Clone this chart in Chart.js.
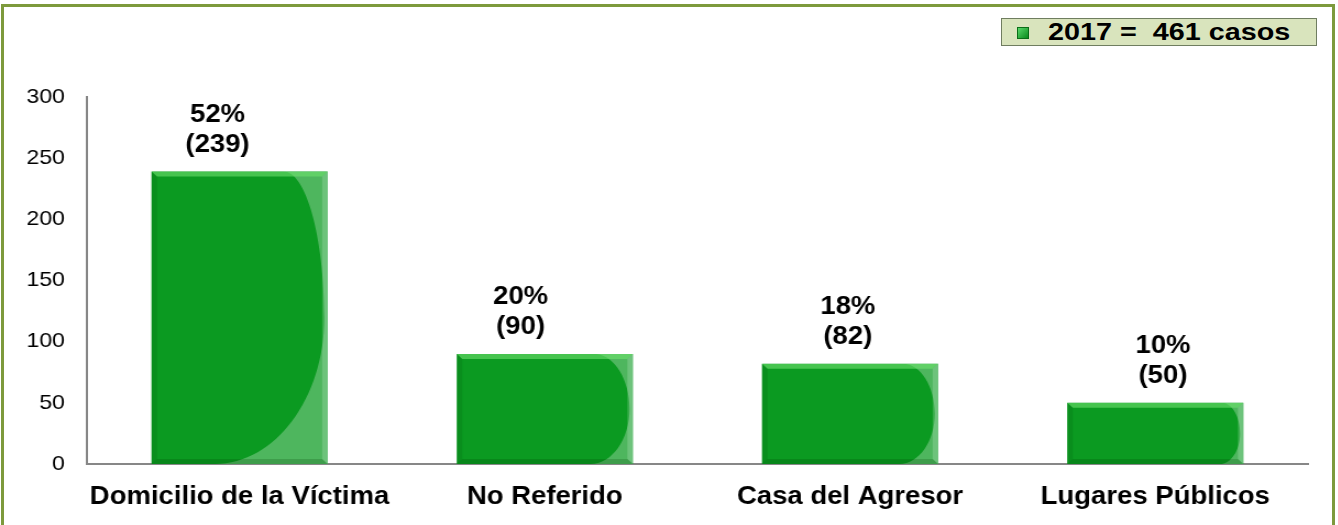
<!DOCTYPE html>
<html>
<head>
<meta charset="utf-8">
<script src="https://cdn.jsdelivr.net/npm/chart.js@4/dist/chart.umd.min.js"></script>
<style>
  html, body { margin: 0; padding: 0; background: #fff; }
  #wrap { position: relative; width: 1338px; height: 525px; overflow: hidden; }
  #frame {
    position: absolute; left: 1px; top: 4px; width: 1328px; height: 540px;
    border: 3px solid #7d9a3c;
  }
  #legend {
    position: absolute; left: 1001px; top: 18px; width: 314px; height: 26px;
    background: #d9e4bd; border: 1px solid #6f7d60;
    font: bold 23px "Liberation Sans", Arial, sans-serif; color: #000;
    line-height: 26px; white-space: pre;
  }
  #legend .mark {
    position: absolute; left: 15px; top: 8px; width: 10px; height: 10px;
    background: linear-gradient(135deg, #5ad86a, #0a8a1c);
    border: 1px solid #0b6f18;
  }
  #legend .txt {
    position: absolute; left: 46px; top: 0;
    transform: scaleX(1.25); transform-origin: 0 0;
  }
  /* the reference art is stretched horizontally, so the chart is too */
  #stretch {
    position: absolute; left: 0; top: 0;
    transform: scaleX(1.1); transform-origin: 0 0;
  }
</style>
</head>
<body>
<div id="wrap">
  <div id="frame"></div>
  <div id="stretch"><canvas id="chart" width="1216" height="525"></canvas></div>
  <div id="legend"><span class="mark"></span><span class="txt"></span></div>
</div>
<script>
const categories = ['Domicilio de la Víctima', 'No Referido', 'Casa del Agresor', 'Lugares Públicos'];
const cases = [239, 90, 82, 50];
const percents = [52, 20, 18, 10];
const yearLabel = '2017';
const totalCases = 461;
const yTicks = [0, 50, 100, 150, 200, 250, 300];

const BAR_GREEN = '#0b9a21';
const AXIS_GRAY = '#878787';
const FONT = '"Liberation Sans", Arial, sans-serif';

document.querySelector('#legend .txt').textContent = yearLabel + ' =  ' + totalCases + ' casos';

// bevel + glossy "D" overlay on each bar
const barEffects = {
  id: 'barEffects',
  afterDatasetsDraw(chart) {
    const ctx = chart.ctx;
    chart.getDatasetMeta(0).data.forEach((bar) => {
      const w = bar.width;
      const left = bar.x - w / 2;
      const right = bar.x + w / 2;
      const top = bar.y;
      const bottom = bar.base;
      const h = bottom - top;
      const midY = top + h * 0.5;
      const topOff = Math.min(0.25 * w, 0.32 * h);
      const botOff = Math.min(0.7 * w, 0.35 * h);
      const xr = right - 3;
      const x0 = right - topOff;
      const x1 = right - botOff;
      const k = 0.55;
      const b = 5;

      ctx.save();
      ctx.beginPath();
      ctx.rect(left, top, w, h);
      ctx.clip();

      // lighter corners right of the curve
      ctx.beginPath();
      ctx.moveTo(x0, top);
      ctx.bezierCurveTo(x0 + k * (xr - x0), top, xr, midY - k * (midY - top), xr, midY);
      ctx.bezierCurveTo(xr, midY + k * (bottom - midY), x1 + k * (xr - x1), bottom, x1, bottom);
      ctx.lineTo(right, bottom);
      ctx.lineTo(right, top);
      ctx.closePath();
      ctx.fillStyle = 'rgba(255,255,255,0.28)';
      ctx.fill();

      // top bevel
      ctx.beginPath();
      ctx.moveTo(left, top); ctx.lineTo(right, top);
      ctx.lineTo(right - b, top + b); ctx.lineTo(left + b, top + b);
      ctx.closePath();
      ctx.fillStyle = 'rgba(110,225,110,0.6)';
      ctx.fill();

      // right bevel
      ctx.beginPath();
      ctx.moveTo(right, top); ctx.lineTo(right, bottom);
      ctx.lineTo(right - b, bottom - b); ctx.lineTo(right - b, top + b);
      ctx.closePath();
      ctx.fillStyle = 'rgba(255,255,255,0.18)';
      ctx.fill();

      // left bevel
      ctx.beginPath();
      ctx.moveTo(left, top); ctx.lineTo(left + b, top + b);
      ctx.lineTo(left + b, bottom - b); ctx.lineTo(left, bottom);
      ctx.closePath();
      ctx.fillStyle = 'rgba(0,60,0,0.12)';
      ctx.fill();

      // bottom bevel
      ctx.beginPath();
      ctx.moveTo(left, bottom); ctx.lineTo(left + b, bottom - b);
      ctx.lineTo(right - b, bottom - b); ctx.lineTo(right, bottom);
      ctx.closePath();
      ctx.fillStyle = 'rgba(0,60,0,0.2)';
      ctx.fill();
      ctx.restore();
    });
  }
};

const valueLabels = {
  id: 'valueLabels',
  afterDatasetsDraw(chart, args, opts) {
    const ctx = chart.ctx;
    ctx.save();
    ctx.font = 'bold 25px ' + FONT;
    ctx.fillStyle = '#000';
    ctx.textAlign = 'center';
    ctx.textBaseline = 'alphabetic';
    chart.getDatasetMeta(0).data.forEach((bar, i) => {
      const x = bar.x + opts.shift[i];
      ctx.fillText('(' + cases[i] + ')', x, bar.y - 20);
      ctx.fillText(percents[i] + '%', x, bar.y - 50);
    });
    ctx.restore();
  }
};

new Chart(document.getElementById('chart'), {
  type: 'bar',
  plugins: [barEffects, valueLabels],
  data: {
    labels: categories,
    datasets: [{
      data: cases,
      backgroundColor: BAR_GREEN,
      borderWidth: 0,
      categoryPercentage: 1,
      barPercentage: 0.577,
    }],
  },
  options: {
    responsive: false,
    animation: false,
    events: [],
    layout: { padding: { top: 97, right: 27, left: 0, bottom: 0 } },
    plugins: {
      legend: { display: false },
      tooltip: { enabled: false },
      valueLabels: { shift: [-20, -22, -2, 7] },
    },
    scales: {
      x: {
        grid: { display: false },
        border: { color: AXIS_GRAY, width: 2 },
        ticks: {
          color: '#000', font: { family: FONT, size: 25, weight: 'bold' }, padding: 10,
          maxRotation: 0, minRotation: 0, autoSkip: false,
        },
        afterFit(scale) { scale.height = 61; },
      },
      y: {
        min: 0,
        max: 300,
        afterBuildTicks(scale) { scale.ticks = yTicks.map((v) => ({ value: v })); },
        grid: { display: false, drawTicks: false },
        border: { color: AXIS_GRAY, width: 2 },
        ticks: { color: '#000', font: { family: FONT, size: 21 }, padding: 20 },
        afterFit(scale) { scale.width = 79; },
      },
    },
  },
});
</script>
</body>
</html>
